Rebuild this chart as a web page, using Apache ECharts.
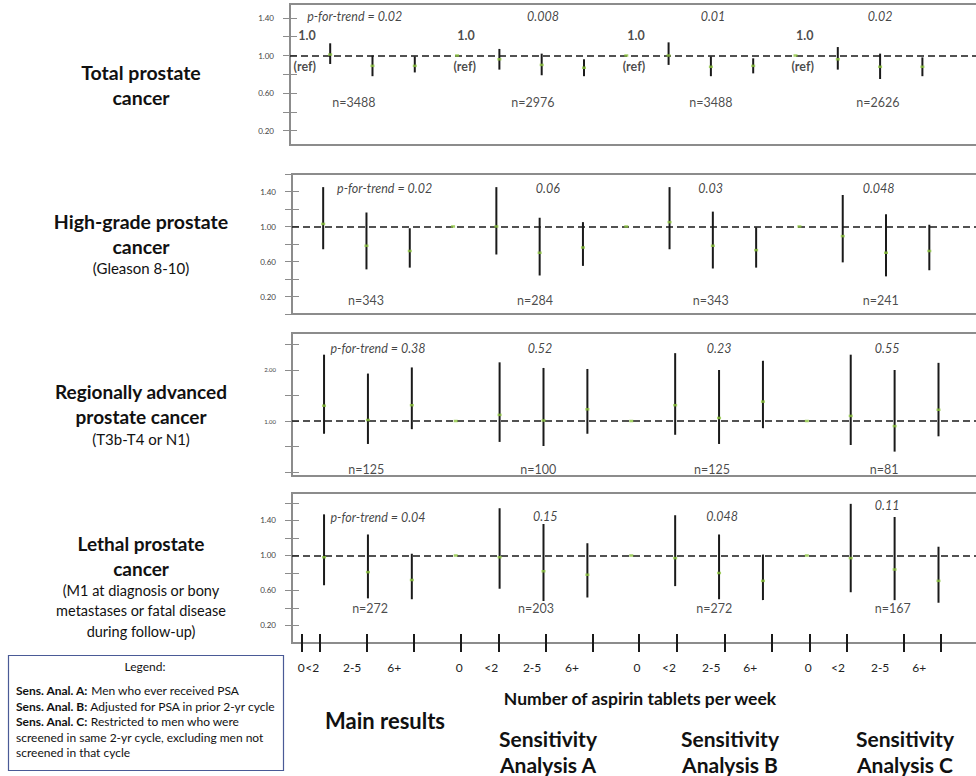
<!DOCTYPE html>
<html><head><meta charset="utf-8">
<script src="https://cdn.jsdelivr.net/npm/echarts@6/dist/echarts.min.js"></script>
<style>html,body{margin:0;padding:0;background:#fff}#c{width:976px;height:776px}</style>
</head><body><div id="c"></div>
<script>
// ---------- DATA ----------
const tickLabels = ['0', '<2', '2-5', '6+'];
const groupNames = ['Main results', 'Sensitivity\nAnalysis A', 'Sensitivity\nAnalysis B', 'Sensitivity\nAnalysis C'];

// Total prostate cancer (16 slots: 4 analyses x [0, <2, 2-5, 6+])
const totalEst = [1, 1.01, 0.89, 0.89, 1, 0.96, 0.90, 0.87, 1, 1.00, 0.88, 0.89, 1, 0.96, 0.88, 0.88];
const totalLo  = [null, 0.91, 0.78, 0.82, null, 0.85, 0.79, 0.78, null, 0.90, 0.78, 0.81, null, 0.85, 0.75, 0.78];
const totalHi  = [null, 1.13, 1.00, 0.99, null, 1.07, 1.02, 0.96, null, 1.14, 0.99, 0.97, null, 1.09, 1.02, 0.98];
const totalP   = ['p-for-trend = 0.02', '0.008', '0.01', '0.02'];
const totalN   = ['n=3488', 'n=2976', 'n=3488', 'n=2626'];

// High-grade prostate cancer
const highEst = [1, 1.03, 0.78, 0.72, 1, 1.00, 0.70, 0.76, 1, 1.05, 0.78, 0.73, 1, 0.89, 0.70, 0.72];
const highLo  = [null, 0.74, 0.51, 0.53, null, 0.68, 0.44, 0.55, null, 0.74, 0.52, 0.53, null, 0.59, 0.43, 0.50];
const highHi  = [null, 1.45, 1.16, 0.98, null, 1.45, 1.10, 1.05, null, 1.45, 1.17, 0.99, null, 1.36, 1.14, 1.02];
const highP   = ['p-for-trend = 0.02', '0.06', '0.03', '0.048'];
const highN   = ['n=343', 'n=284', 'n=343', 'n=241'];

// Regionally advanced prostate cancer
const regEst = [1, 1.30, 1.02, 1.31, 1, 1.12, 1.01, 1.23, 1, 1.31, 1.06, 1.38, 1, 1.10, 0.90, 1.22];
const regLo  = [null, 0.75, 0.55, 0.84, null, 0.59, 0.51, 0.75, null, 0.73, 0.55, 0.86, null, 0.53, 0.40, 0.70];
const regHi  = [null, 2.30, 1.93, 2.05, null, 2.15, 2.04, 2.02, null, 2.33, 2.00, 2.18, null, 2.30, 2.00, 2.14];
const regP   = ['p-for-trend = 0.38', '0.52', '0.23', '0.55'];
const regN   = ['n=125', 'n=100', 'n=125', 'n=81'];

// Lethal prostate cancer
const lethalEst = [1, 0.98, 0.81, 0.72, 1, 0.98, 0.82, 0.78, 1, 0.97, 0.80, 0.71, 1, 0.97, 0.84, 0.71];
const lethalLo  = [null, 0.66, 0.51, 0.50, null, 0.62, 0.48, 0.52, null, 0.65, 0.50, 0.49, null, 0.58, 0.49, 0.46];
const lethalHi  = [null, 1.47, 1.24, 1.02, null, 1.54, 1.36, 1.14, null, 1.46, 1.24, 1.01, null, 1.59, 1.44, 1.10];
const lethalP   = ['p-for-trend = 0.04', '0.15', '0.048', '0.11'];
const lethalN   = ['n=272', 'n=203', 'n=272', 'n=167'];

// ---------- LAYOUT ----------
const FONT = 'Lato, "Open Sans", sans-serif';
const panels = [
  { est: totalEst, lo: totalLo, hi: totalHi, p: totalP, n: totalN,
    grid: { left: 290, top: 4, height: 141, width: 706 }, ymin: 0.048, ymax: 1.548, xmin: 0.05, xmax: 16.74,
    yTicks: [0.2, 0.4, 0.6, 0.8, 1.0, 1.2, 1.4], yLabels: [0.2, 0.6, 1.0, 1.4], yLabelSize: 8,
    pX: [1.58, 6.03, 10.05, 14.0], pY: [1.41, 1.41, 1.41, 1.41],
    nX: [1.56, 5.79, 10.0, 13.95], nY: [0.495, 0.495, 0.495, 0.495],
    refOne: { x: [0.45, 4.21, 8.23, 12.22], y: 1.21 }, refTxt: { x: [0.40, 4.18, 8.18, 12.17], y: 0.88 } },
  { est: highEst, lo: highLo, hi: highHi, p: highP, n: highN,
    grid: { left: 292, top: 174, height: 140, width: 704 }, ymin: 0, ymax: 1.6, xmin: 0.28, xmax: 16.54,
    yTicks: [0, 0.2, 0.4, 0.6, 0.8, 1.0, 1.2, 1.4, 1.6], yLabels: [0.2, 0.6, 1.0, 1.4], yLabelSize: 8,
    pX: [2.42, 6.19, 9.95, 13.83], pY: [1.44, 1.44, 1.44, 1.44],
    nX: [1.99, 5.89, 9.95, 13.88], nY: [0.16, 0.16, 0.16, 0.16] },
  { est: regEst, lo: regLo, hi: regHi, p: regP, n: regN,
    grid: { left: 292, top: 333, height: 143, width: 704 }, ymin: -0.078, ymax: 2.725, xmin: 0.27, xmax: 16.31,
    yTicks: [0, 0.5, 1, 1.5, 2, 2.5], yLabels: [1, 2], yLabelSize: 6,
    pX: [2.23, 5.92, 10.0, 13.83], pY: [2.43, 2.43, 2.43, 2.43],
    nX: [1.96, 5.88, 9.84, 13.76], nY: [0.04, 0.04, 0.04, 0.04] },
  { est: lethalEst, lo: lethalLo, hi: lethalHi, p: lethalP, n: lethalN,
    grid: { left: 292, top: 493, height: 150, width: 704 }, ymin: 0, ymax: 1.714, xmin: 0.27, xmax: 16.31,
    yTicks: [0.2, 0.4, 0.6, 0.8, 1.0, 1.2, 1.4, 1.6], yLabels: [0.2, 0.6, 1.0, 1.4], yLabelSize: 8,
    pX: [2.23, 6.04, 10.07, 13.83], pY: [1.43, 1.45, 1.45, 1.57],
    nX: [2.05, 5.83, 9.89, 13.96], nY: [0.39, 0.39, 0.39, 0.39] }
];
// bottom axis positions (in slot units of the lethal panel)
const xTickPos  = [0.50, 0.91, 1.98, 3.05, 4.12, 4.97, 6.06, 7.13, 8.18, 9.04, 10.14, 11.21, 12.07, 12.92, 14.21, 15.06];
const xLabelPos = [0.48, 0.73, 1.64, 2.60, 4.08, 4.81, 5.74, 6.65, 8.13, 8.86, 9.82, 10.71, 12.03, 12.71, 13.67, 14.56];

const grids = [], xAxes = [], yAxes = [], series = [];
panels.forEach((P, k) => {
  grids.push({ left: P.grid.left, top: P.grid.top, height: P.grid.height, width: P.grid.width,
    outerBoundsMode: 'none', containLabel: false,
    show: true, borderColor: '#8c8c8c', borderWidth: 2, backgroundColor: 'transparent' });
  xAxes.push({ gridIndex: k, type: 'value', min: P.xmin, max: P.xmax, show: false });
  yAxes.push({ gridIndex: k, type: 'value', min: P.ymin, max: P.ymax, offset: -7,
    axisLine: { show: false }, splitLine: { show: false },
    axisTick: { show: true, length: 14, customValues: P.yTicks, lineStyle: { color: '#8c8c8c', width: 1 } },
    axisLabel: { customValues: P.yLabels, formatter: v => v.toFixed(2), fontSize: P.yLabelSize,
      color: '#444', margin: 23, fontFamily: FONT } });
  // error bars
  const bars = [];
  P.lo.forEach((l, i) => { if (l != null) bars.push([i, l, P.hi[i]]); });
  series.push({ type: 'custom', xAxisIndex: k, yAxisIndex: k, clip: true, silent: true, z: 3,
    data: bars,
    renderItem: (params, api) => {
      const a = api.coord([api.value(0), api.value(1)]);
      const b = api.coord([api.value(0), api.value(2)]);
      return { type: 'line', shape: { x1: a[0], y1: a[1], x2: b[0], y2: b[1] },
        style: { stroke: '#1a1a1a', lineWidth: 2 } };
    } });
  // point estimates + reference line
  series.push({ type: 'scatter', xAxisIndex: k, yAxisIndex: k, clip: true, silent: true, z: 5,
    symbol: 'rect', symbolSize: [4, 2.5], itemStyle: { color: '#8dc63f' },
    data: P.est.map((v, i) => [i, v]),
    markLine: { silent: true, symbol: 'none', label: { show: false },
      lineStyle: { color: '#1a1a1a', type: [7, 4], width: 1.6 },
      data: [{ yAxis: 1 }], z: 4 } });
  // annotations
  const ann = [];
  P.p.forEach((t, g) => ann.push({ value: [P.pX[g], P.pY[g]], label: { formatter: t, fontStyle: 'italic', color: '#111' } }));
  P.n.forEach((t, g) => ann.push({ value: [P.nX[g], P.nY[g]], label: { formatter: t } }));
  if (P.refOne) {
    P.refOne.x.forEach(x => ann.push({ value: [x, P.refOne.y], label: { formatter: '1.0', fontWeight: 'bold' } }));
    P.refTxt.x.forEach(x => ann.push({ value: [x, P.refTxt.y], label: { formatter: '(ref)', fontWeight: 'bold' } }));
  }
  series.push({ type: 'scatter', xAxisIndex: k, yAxisIndex: k, silent: true, symbolSize: 0, z: 6,
    label: { show: true, position: 'inside', color: '#1a1a1a', fontSize: 12.5, fontFamily: FONT },
    data: ann });
});

// bottom category ticks on the lethal panel (crossing ticks: outward + inward)
const LP = panels[3];
xAxes.push({ gridIndex: 3, type: 'value', min: LP.xmin, max: LP.xmax, position: 'bottom',
  axisLine: { show: false }, splitLine: { show: false },
  axisTick: { show: true, length: 9, customValues: xTickPos, lineStyle: { color: '#1a1a1a', width: 2 } },
  axisLabel: { customValues: xLabelPos, margin: 18, fontSize: 12, color: '#222', fontFamily: FONT,
    formatter: v => { const i = xLabelPos.findIndex(p => Math.abs(p - v) < 1e-6); return i < 0 ? '' : tickLabels[i % 4]; } } });
xAxes.push({ gridIndex: 3, type: 'value', min: LP.xmin, max: LP.xmax, position: 'bottom',
  axisLine: { show: false }, splitLine: { show: false },
  axisTick: { show: true, inside: true, length: 9, customValues: xTickPos, lineStyle: { color: '#1a1a1a', width: 2 } },
  axisLabel: { show: false } });

// ---------- TEXT / DECORATION ----------
const T = (x, y, text, size, weight, extra) => Object.assign({ type: 'text', x, y,
  style: Object.assign({ text, fontSize: size, fontWeight: weight || 'normal', fontFamily: FONT,
    fill: '#111', align: 'center', verticalAlign: 'middle' }, extra || {}) });
const graphic = [
  T(141, 72, 'Total prostate', 19.5, 'bold'), T(141, 97, 'cancer', 19.5, 'bold'),
  T(141, 221, 'High-grade prostate', 19.5, 'bold'), T(141, 246, 'cancer', 19.5, 'bold'), T(141, 268, '(Gleason 8-10)', 15),
  T(141, 391, 'Regionally advanced', 19, 'bold'), T(141, 416, 'prostate cancer', 19, 'bold'), T(141, 439, '(T3b-T4 or N1)', 15),
  T(141, 543, 'Lethal prostate', 19, 'bold'), T(141, 568, 'cancer', 19, 'bold'),
  T(141, 590, '(M1 at diagnosis or bony', 14.5), T(141, 610, 'metastases or fatal disease', 14.5), T(141, 631, 'during follow-up)', 14.5),
  T(640, 698, 'Number of aspirin tablets per week', 17.5, 'bold'),
  T(385, 720, groupNames[0], 22, 'bold'),
  T(548, 751, groupNames[1], 21, 'bold', { lineHeight: 26 }),
  T(730, 751, groupNames[2], 21, 'bold', { lineHeight: 26 }),
  T(905, 751, groupNames[3], 21, 'bold', { lineHeight: 26 }),
  { type: 'rect', shape: { x: 8.5, y: 655.5, width: 275, height: 115 }, style: { fill: '#fff', stroke: '#4a5a96', lineWidth: 1.2 } },
  T(145, 666, 'Legend:', 12),
  { type: 'text', x: 16, y: 683, style: { fontFamily: FONT, fontSize: 12, fill: '#111', lineHeight: 15.5,
    text: '{b|Sens. Anal. A:} Men who ever received PSA\n{b|Sens. Anal. B:} Adjusted for PSA in prior 2-yr cycle\n{b|Sens. Anal. C:} Restricted to men who were\nscreened in same 2-yr cycle, excluding men not\nscreened in that cycle',
    rich: { b: { fontWeight: 'bold', fontFamily: FONT, fontSize: 12, fill: '#111' } } } }
];

const chart = echarts.init(document.getElementById('c'), null, { renderer: 'svg' });
chart.setOption({ animation: false, backgroundColor: '#fff', grid: grids, xAxis: xAxes, yAxis: yAxes, series, graphic });
</script></body></html>
